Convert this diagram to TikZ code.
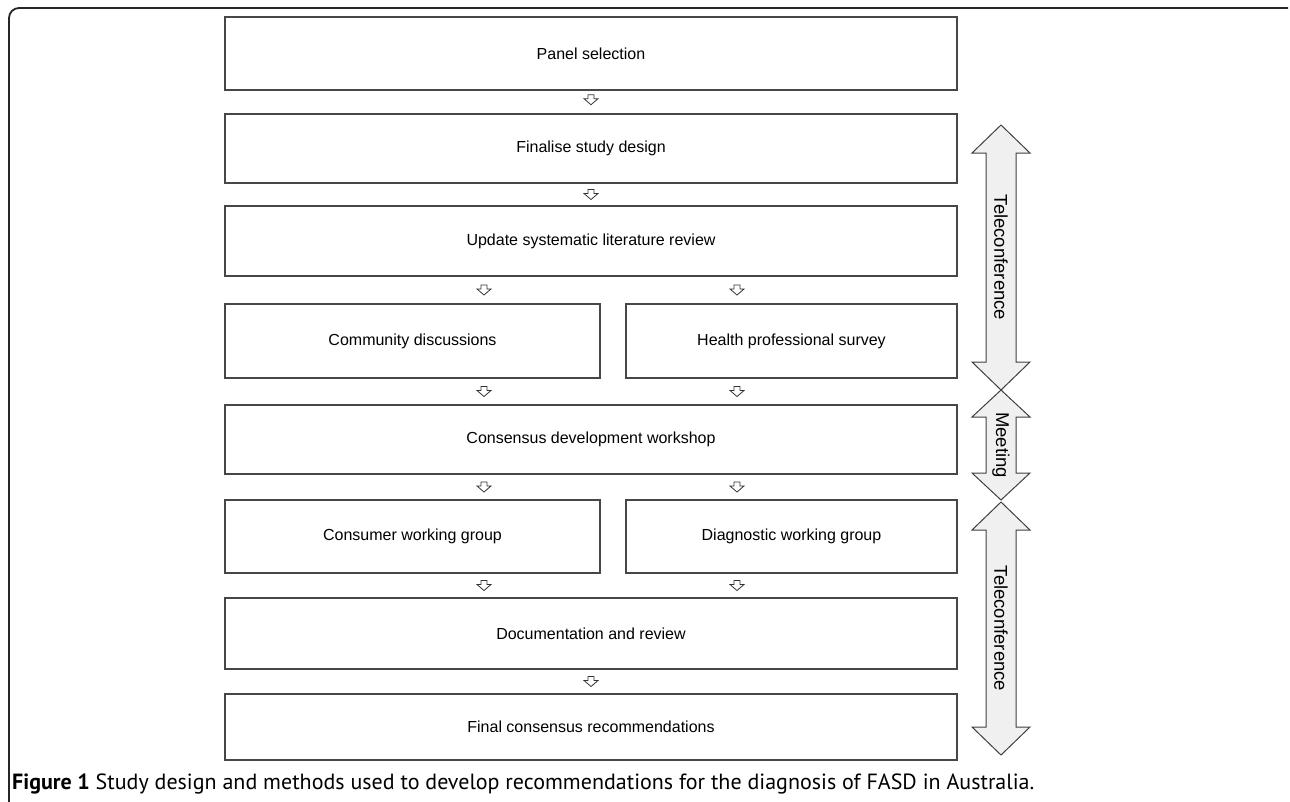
\documentclass[tikz,border=0pt]{standalone}
\usepackage{fontspec}
\setmainfont{Liberation Sans}
\newfontfamily\captionfont{PT Sans}
\usepackage{tikz}
\usetikzlibrary{positioning, calc}
\tikzstyle{stage} = [rectangle, draw=black!72, line width=1.1pt, text centered,
inner sep=0pt, font=\fontsize{16}{19}\selectfont]
\tikzstyle{flow} = [draw=black!80, line width=0.8pt, fill=white]
\tikzstyle{span} = [draw=black!75, line width=1pt, fill=gray!12]
\tikzstyle{spanlabel} = [rotate=-90, inner sep=0pt, font=\fontsize{18.5}{20}\selectfont]
\newcommand{\flowarrow}[1]{\draw[flow] #1 ++(-3,-5) -- ++(6,0) -- ++(0,4)
  -- ++(4,0) -- ++(-7,6) -- ++(-7,-6) -- ++(4,0) -- cycle;}

\begin{document}
\begin{tikzpicture}[x=1pt, y=-1pt]
    \useasboundingbox (0,0) rectangle (1290,801);
    % outer frame, open at the bottom and right
    \draw[line width=1.8pt, black!85, rounded corners=10pt] (9,803) -- (9,8) -- (1288,8);

    \node (panel) [stage, minimum width=732, minimum height=73] at (591,53.5)
    {Panel selection}; \node (design) [stage, minimum width=732, minimum
      height=69] at (591,148.5) {Finalise study design}; \node (review) [stage,
      minimum width=732, minimum height=70] at (591,241) {Update systematic
      literature review}; \node (community) [stage, minimum width=375, minimum
      height=74] at (412.5,341) {Community discussions}; \node (survey) [stage,
      minimum width=331, minimum height=74] at (791.5,341) {Health professional
      survey}; \node (workshop) [stage, minimum width=732, minimum height=69] at
    (591,439.5) {Consensus development workshop}; \node (consumer) [stage,
      minimum width=375, minimum height=73] at (412.5,536.5) {Consumer working
      group}; \node (diagnostic) [stage, minimum width=331, minimum height=73]
    at (791.5,536.5) {Diagnostic working group}; \node (docs) [stage, minimum
      width=732, minimum height=71] at (591,633.5) {Documentation and
      review}; \node (final) [stage, minimum width=732, minimum height=66] at
    (591,727) {Final consensus recommendations};

    \coordinate (L) at (484,0); % the paired arrows sit here
    \coordinate (R) at (737,0);

    \flowarrow{($(panel.south)!.4!(design.north)$)}
    \flowarrow{($(design.south)!.5!(review.north)$)}
    \flowarrow{($(review.south -| L)!.5!(community.north -| L)$)}
    \flowarrow{($(review.south -| R)!.5!(survey.north -| R)$)}
    \flowarrow{($(community.south -| L)!.5!(workshop.north -| L)$)}
    \flowarrow{($(survey.south -| R)!.5!(workshop.north -| R)$)}
    \flowarrow{($(workshop.south -| L)!.5!(consumer.north -| L)$)}
    \flowarrow{($(workshop.south -| R)!.5!(diagnostic.north -| R)$)}
    \flowarrow{($(consumer.south -| L)!.5!(docs.north -| L)$)}
    \flowarrow{($(diagnostic.south -| R)!.5!(docs.north -| R)$)}
    \flowarrow{($(docs.south)!.5!(final.north)$)}

    % phases on the right
    \draw[span] (1001,125) -- (1030,153) -- (1016,153) -- (1016,362) -- (1030,362)
    -- (1001,390) -- (972,362) -- (986,362) -- (986,153) -- (972,153) -- cycle;
    \node (tele1) [spanlabel] at (1001,257.5) {Teleconference};
    \draw[span] (1001,390) -- (1030,417) -- (1016,417) -- (1016,473) -- (1030,473)
    -- (1001,500) -- (972,473) -- (986,473) -- (986,417) -- (972,417) -- cycle;
    \node (meet) [spanlabel] at (1001,445) {Meeting};
    \draw[span] (1001,502) -- (1030,530) -- (1016,530) -- (1016,727) -- (1030,727)
    -- (1001,755) -- (972,727) -- (986,727) -- (986,530) -- (972,530) -- cycle;
    \node (tele2) [spanlabel] at (1001,628.5) {Teleconference};

    \node (caption) [anchor=base west, inner sep=0pt,
      font=\captionfont\fontsize{22}{25}\selectfont] at (12,789)
    {\textbf{Figure 1} Study design and methods used to develop recommendations
      for the diagnosis of FASD in Australia.};
\end{tikzpicture}
\end{document}
